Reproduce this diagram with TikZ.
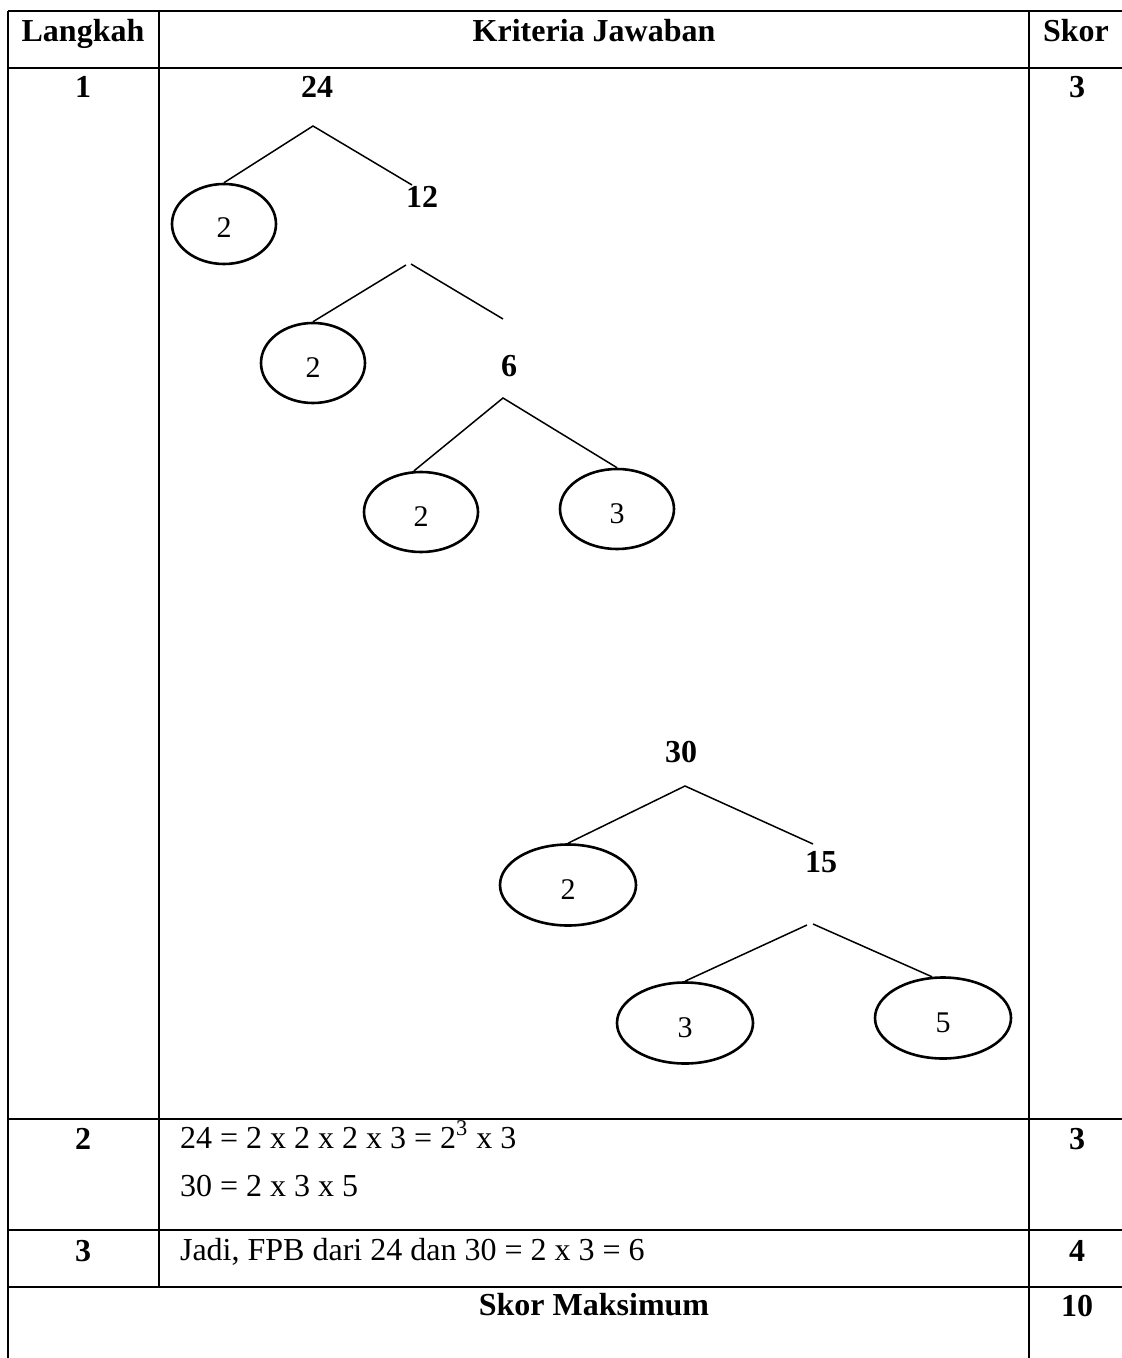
\documentclass[tikz,border=0pt]{standalone}
\usepackage{fontspec}
\setmainfont{Liberation Serif}
\usetikzlibrary{shapes.geometric}
\tikzset{
  prima/.style={draw,ellipse,line width=1.3pt,inner sep=0pt,text height=14pt,text depth=0pt,font=\fontsize{15}{17}\selectfont},
  kecil/.style={prima,minimum width=52pt,minimum height=40pt},
  sedang/.style={prima,minimum width=57pt,minimum height=40pt},
  besar/.style={prima,minimum width=68pt,minimum height=40.5pt},
  angka/.style={anchor=base,font=\fontsize{16}{19}\selectfont\bfseries},
  isi/.style={anchor=base west,font=\fontsize{16}{19}\selectfont},
  cabang/.style={line width=0.75pt},
  garis/.style={line width=1pt}
}
\begin{document}
\begin{tikzpicture}[x=0.5pt,y=-0.5pt]
\useasboundingbox (0,0) rectangle (1122,1358);
\foreach \y in {11,68,1119,1230,1287}
  \draw[garis] (8,\y) -- (1122,\y);
\draw[garis] (8,11) -- (8,1358);
\draw[garis] (159,11) -- (159,1287);
\draw[garis] (1029,11) -- (1029,1358);
\node[angka] (hLangkah) at (83,42) {Langkah};
\node[angka] (hKriteria) at (594,42) {Kriteria Jawaban};
\node[angka] (hSkor) at (1076,42) {Skor};
\node[angka] (l1) at (83,98) {1};
\node[angka] (s1) at (1077,98) {3};
\node[angka] (l2) at (83,1149) {2};
\node[angka] (s2) at (1077,1149) {3};
\node[angka] (l3) at (83,1261) {3};
\node[angka] (s3) at (1077,1261) {4};
\node[angka] (maks) at (594,1315) {Skor Maksimum};
\node[angka] (s4) at (1077,1316) {10};
\node[isi] (r24) at (173,1148) {24 = 2 x 2 x 2 x 3 = 2\textsuperscript{3} x 3};
\node[isi] (r30) at (173,1196) {30 = 2 x 3 x 5};
\node[isi] (jadi) at (173,1260) {Jadi, FPB dari 24 dan 30 = 2 x 3 = 6};
\node[angka] (n24) at (317,98) {24};
\node[kecil] (fa) at (224,224) {2};
\node[angka] (n12) at (422,208) {12};
\node[kecil] (fb) at (313,363) {2};
\node[angka] (n6) at (509,376) {6};
\node[sedang] (fc) at (421,512) {2};
\node[sedang] (fd) at (617,509) {3};
\coordinate (pa) at (313,126);
\coordinate (ua) at (412,185);
\coordinate (pbl) at (406,265);
\coordinate (pbr) at (411,264);
\coordinate (ub) at (503,319);
\coordinate (pc) at (503,398);
\draw[cabang] (fa.north) -- (pa) -- (ua);
\draw[cabang] (fb.north) -- (pbl);
\draw[cabang] (pbr) -- (ub);
\draw[cabang] (fc.100) -- (pc) -- (fd.north);
\node[angka] (n30) at (681,762) {30};
\node[besar] (fe) at (568,885) {2};
\node[angka] (n15) at (821,872) {15};
\node[besar] (ff) at (685,1023) {3};
\node[besar] (fg) at (943,1018) {5};
\coordinate (pd) at (685,786);
\coordinate (ud) at (813,844);
\coordinate (pel) at (807,925);
\coordinate (per) at (813,924);
\draw[cabang] (fe.north) -- (pd) -- (ud);
\draw[cabang] (ff.north) -- (pel);
\draw[cabang] (per) -- (fg.105);
\end{tikzpicture}
\end{document}
